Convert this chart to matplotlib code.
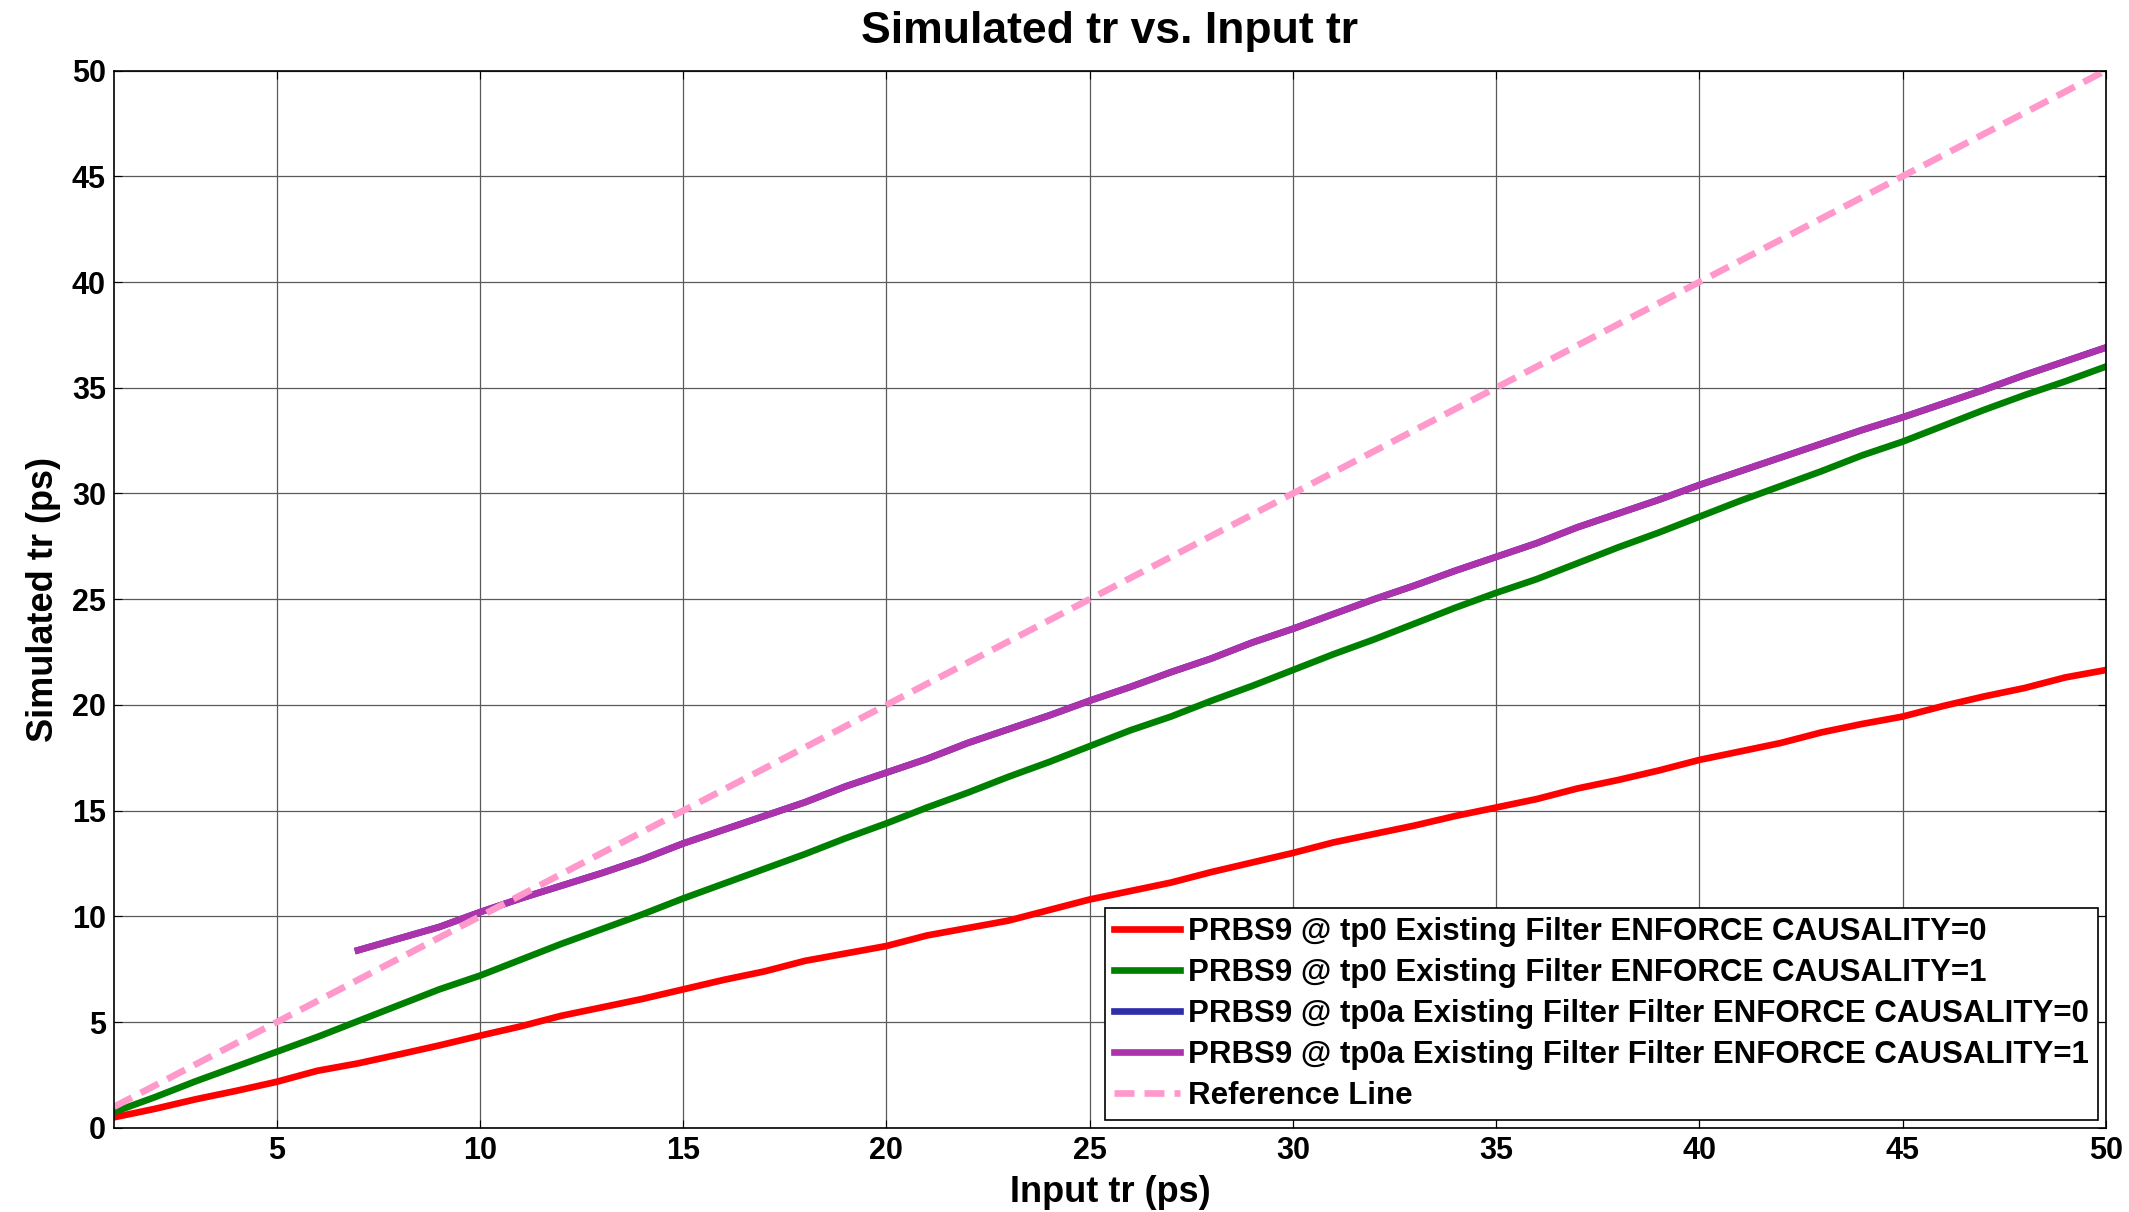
import matplotlib
matplotlib.use("Agg")
import matplotlib.pyplot as plt

plt.rcParams['font.family'] = ['Liberation Sans', 'DejaVu Sans']
plt.rcParams['font.weight'] = 'bold'

# input rise time (ps)
x_in = list(range(1, 51))

# PRBS9 @ tp0, ENFORCE CAUSALITY=0
tp0_c0 = [0.5, 0.9, 1.35, 1.75, 2.18, 2.7, 3.05, 3.47, 3.9, 4.36,
          4.8, 5.3, 5.7, 6.1, 6.55, 7.0, 7.4, 7.9, 8.25, 8.6,
          9.1, 9.45, 9.8, 10.3, 10.8, 11.2, 11.6, 12.1, 12.55, 13.0,
          13.5, 13.9, 14.3, 14.75, 15.15, 15.55, 16.05, 16.45, 16.9, 17.4,
          17.8, 18.2, 18.7, 19.1, 19.45, 19.95, 20.4, 20.8, 21.3, 21.65]

# PRBS9 @ tp0, ENFORCE CAUSALITY=1
tp0_c1 = [0.75, 1.45, 2.2, 2.9, 3.6, 4.3, 5.05, 5.8, 6.55, 7.2,
          7.95, 8.7, 9.4, 10.1, 10.85, 11.55, 12.25, 12.95, 13.7, 14.4,
          15.15, 15.85, 16.6, 17.3, 18.05, 18.8, 19.45, 20.2, 20.9, 21.65,
          22.4, 23.1, 23.85, 24.6, 25.3, 25.95, 26.7, 27.45, 28.15, 28.9,
          29.65, 30.35, 31.05, 31.8, 32.45, 33.2, 33.95, 34.65, 35.3, 36.0]

# tp0a sweeps start at 7 ps
x_tp0a = list(range(7, 51))
tp0a_c0 = [8.4, 8.95, 9.5, 10.2, 10.85, 11.45, 12.05, 12.7, 13.45, 14.1,
           14.75, 15.4, 16.15, 16.8, 17.45, 18.2, 18.85, 19.5, 20.2, 20.85,
           21.55, 22.2, 22.95, 23.6, 24.3, 25.0, 25.65, 26.35, 27.0, 27.65,
           28.4, 29.05, 29.7, 30.4, 31.05, 31.7, 32.35, 33.0, 33.6, 34.25,
           34.9, 35.6, 36.25, 36.9]
tp0a_c1 = [8.4, 8.95, 9.5, 10.2, 10.85, 11.45, 12.05, 12.7, 13.45, 14.1,
           14.75, 15.4, 16.15, 16.8, 17.45, 18.2, 18.85, 19.5, 20.2, 20.85,
           21.55, 22.2, 22.95, 23.6, 24.3, 25.0, 25.65, 26.35, 27.0, 27.65,
           28.4, 29.05, 29.7, 30.4, 31.05, 31.7, 32.35, 33.0, 33.6, 34.25,
           34.9, 35.6, 36.25, 36.9]

ref_x = [1, 50]
ref_y = [1, 50]

labels = ['PRBS9 @ tp0 Existing Filter ENFORCE CAUSALITY=0',
          'PRBS9 @ tp0 Existing Filter ENFORCE CAUSALITY=1',
          'PRBS9 @ tp0a Existing Filter Filter ENFORCE CAUSALITY=0',
          'PRBS9 @ tp0a Existing Filter Filter ENFORCE CAUSALITY=1',
          'Reference Line']

fig = plt.figure(figsize=(21.29, 12.12), dpi=100)
ax = fig.add_axes([0.0536, 0.0694, 0.9355, 0.8724])

lw = 4.8
ax.plot(x_in, tp0_c0, color='#ff0000', lw=lw, label=labels[0])
ax.plot(x_in, tp0_c1, color='#008000', lw=lw, label=labels[1])
ax.plot(x_tp0a, tp0a_c0, color='#2e2eaa', lw=lw, label=labels[2])
ax.plot(x_tp0a, tp0a_c1, color='#ac33ac', lw=lw, label=labels[3])
ax.plot(ref_x, ref_y, color='#ff99cc', lw=lw, ls=(0, (3.0, 1.5)), label=labels[4])

ax.set_xlim(1, 50)
ax.set_ylim(0, 50)
ax.set_xticks(range(5, 51, 5))
ax.set_yticks(range(0, 51, 5))
ax.grid(True, color='#5a5a5a', lw=0.9)
ax.tick_params(direction='in', top=True, right=True, length=6, labelsize=22, pad=6)
for t in ax.get_xticklabels() + ax.get_yticklabels():
    t.set_fontweight('bold')
for s in ax.spines.values():
    s.set_linewidth(1.2)

ax.set_title('Simulated tr vs. Input tr', fontsize=32, fontweight='bold', pad=20)
ax.set_xlabel('Input tr (ps)', fontsize=26, fontweight='bold', labelpad=6)
ax.set_ylabel('Simulated tr (ps)', fontsize=26, fontweight='bold', labelpad=8)

leg = ax.legend(loc='lower right', prop={'weight': 'bold', 'size': 22.5},
                fancybox=False, edgecolor='black', framealpha=1,
                handlelength=2.1, handletextpad=0.26, labelspacing=0.35,
                borderaxespad=0.25, borderpad=0.3)
leg.get_frame().set_linewidth(1.2)

fig.savefig('out.png', dpi=100)
